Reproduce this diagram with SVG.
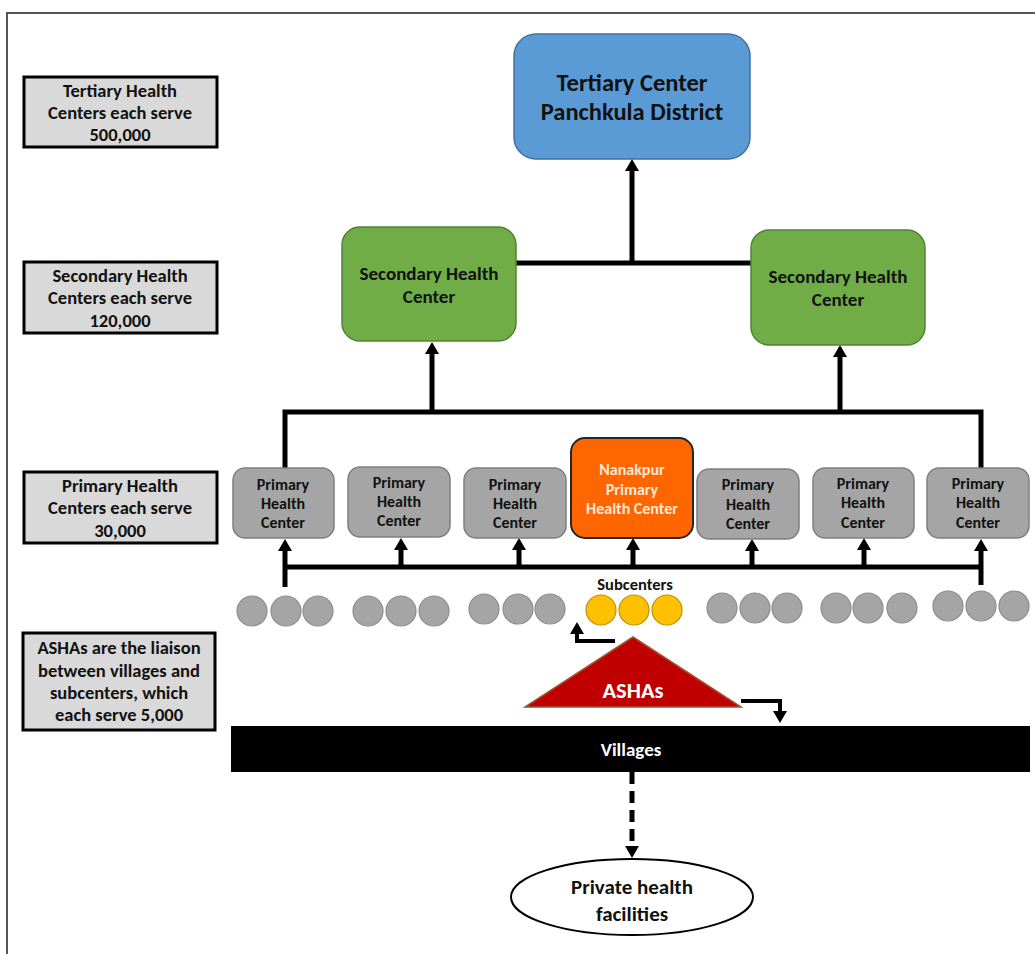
<svg xmlns="http://www.w3.org/2000/svg" width="1035" height="954" viewBox="0 0 1035 954">
<style>
text{font-family:Carlito,Lato,"Liberation Sans",sans-serif;font-weight:bold;text-anchor:middle;fill:#111}
.lbl rect{fill:#d9d9d9;stroke:#000;stroke-width:3}
.lbl text{font-size:18.5px}
.prim rect{fill:#a5a5a5;stroke:#7f7f7f;stroke-width:1.5}
.prim text{font-size:16px}
.sec rect{fill:#70ad47;stroke:#548235;stroke-width:1.5}
.sec text{font-size:19px}
.sc{fill:#a5a5a5;stroke:#8c8c8c;stroke-width:1.2}
.sy{fill:#ffc000;stroke:#bf9000;stroke-width:1.2}
.ln{fill:none;stroke:#000;stroke-width:5}
.el{fill:none;stroke:#000;stroke-width:4}
</style>
<defs>
<marker id="ah" viewBox="0 0 12 14" refX="1" refY="7" markerWidth="12" markerHeight="14" markerUnits="userSpaceOnUse" orient="auto">
<path d="M0,0 L12,7 L0,14 z" fill="#000"/>
</marker>
</defs>
<path d="M7,954 L7,13 L1035,13" fill="none" stroke="#555" stroke-width="2"/>

<g id="label-tertiary" class="lbl">
<rect x="24" y="77" width="193" height="70"/>
<text x="120" y="97">Tertiary Health</text>
<text x="120" y="119">Centers each serve</text>
<text x="120" y="141">500,000</text>
</g>
<g id="label-secondary" class="lbl">
<rect x="24" y="262" width="193" height="71"/>
<text x="120" y="282">Secondary Health</text>
<text x="120" y="304">Centers each serve</text>
<text x="120" y="327">120,000</text>
</g>
<g id="label-primary" class="lbl">
<rect x="24" y="472" width="193" height="71"/>
<text x="120" y="492">Primary Health</text>
<text x="120" y="514">Centers each serve</text>
<text x="120" y="537">30,000</text>
</g>
<g id="label-ashas" class="lbl">
<rect x="23" y="633" width="192" height="97"/>
<text x="119" y="654">ASHAs are the liaison</text>
<text x="119" y="677">between villages and</text>
<text x="119" y="699">subcenters, which</text>
<text x="119" y="721">each serve 5,000</text>
</g>

<g id="connectors">
<path class="ln" d="M632,263 L632,170" marker-end="url(#ah)"/>
<path class="ln" d="M516,263 L751,263"/>
<path class="ln" d="M432,412 L432,353" marker-end="url(#ah)"/>
<path class="ln" d="M840,412 L840,356" marker-end="url(#ah)"/>
<path class="ln" d="M285,468 L285,412 L981,412 L981,468"/>
<path class="ln" d="M285,567 L981,567"/>
<path class="ln" d="M285,587 L285,550" marker-end="url(#ah)"/>
<path class="ln" d="M401,567 L401,549" marker-end="url(#ah)"/>
<path class="ln" d="M519,567 L519,549" marker-end="url(#ah)"/>
<path class="ln" d="M633,567 L633,549" marker-end="url(#ah)"/>
<path class="ln" d="M752,567 L752,550" marker-end="url(#ah)"/>
<path class="ln" d="M864,567 L864,549" marker-end="url(#ah)"/>
<path class="ln" d="M981,585 L981,550" marker-end="url(#ah)"/>
<path class="el" d="M615,641 L577,641 L577,633" marker-end="url(#ah)"/>
<path class="el" d="M741,701 L780,701 L780,712" marker-end="url(#ah)"/>
<path class="ln" d="M632,772 L632,847" stroke-dasharray="12,7" marker-end="url(#ah)"/>
</g>

<g id="tertiary-center">
<rect x="514" y="34" width="236" height="125" rx="22" fill="#5b9bd5" stroke="#41719c" stroke-width="1.5"/>
<text x="632" y="91" font-size="24.5">Tertiary Center</text>
<text x="632" y="120" font-size="24.5">Panchkula District</text>
</g>
<g id="secondary-left" class="sec">
<rect x="342" y="227" width="174" height="114" rx="18"/>
<text x="429" y="280">Secondary Health</text>
<text x="429" y="303">Center</text>
</g>
<g id="secondary-right" class="sec">
<rect x="751" y="230" width="174" height="115" rx="18"/>
<text x="838" y="283">Secondary Health</text>
<text x="838" y="306">Center</text>
</g>

<g id="primary-1" class="prim">
<rect x="233" y="468" width="101" height="70" rx="12"/>
<text x="283" y="490">Primary</text><text x="283" y="509">Health</text><text x="283" y="528">Center</text>
</g>
<g id="primary-2" class="prim">
<rect x="348" y="467" width="102" height="70" rx="12"/>
<text x="399" y="488">Primary</text><text x="399" y="507">Health</text><text x="399" y="526">Center</text>
</g>
<g id="primary-3" class="prim">
<rect x="464" y="468" width="102" height="70" rx="12"/>
<text x="515" y="490">Primary</text><text x="515" y="509">Health</text><text x="515" y="528">Center</text>
</g>
<g id="primary-nanakpur">
<rect x="571" y="438" width="122" height="100" rx="14" fill="#ff6600" stroke="#262626" stroke-width="2"/>
<text x="632" y="475" font-size="16" style="fill:#fde9d9">Nanakpur</text>
<text x="632" y="495" font-size="16" style="fill:#fde9d9">Primary</text>
<text x="632" y="514" font-size="16" style="fill:#fde9d9">Health Center</text>
</g>
<g id="primary-5" class="prim">
<rect x="697" y="469" width="102" height="70" rx="12"/>
<text x="748" y="490">Primary</text><text x="748" y="510">Health</text><text x="748" y="529">Center</text>
</g>
<g id="primary-6" class="prim">
<rect x="813" y="468" width="101" height="70" rx="12"/>
<text x="863" y="489">Primary</text><text x="863" y="508">Health</text><text x="863" y="528">Center</text>
</g>
<g id="primary-7" class="prim">
<rect x="927" y="468" width="102" height="70" rx="12"/>
<text x="978" y="489">Primary</text><text x="978" y="508">Health</text><text x="978" y="528">Center</text>
</g>

<g id="subcenters">
<circle class="sc" cx="252" cy="611" r="15"/><circle class="sc" cx="286" cy="611" r="15"/><circle class="sc" cx="318" cy="611" r="15"/>
<circle class="sc" cx="368" cy="611" r="15"/><circle class="sc" cx="401" cy="611" r="15"/><circle class="sc" cx="434" cy="611" r="15"/>
<circle class="sc" cx="484" cy="609" r="15"/><circle class="sc" cx="518" cy="609" r="15"/><circle class="sc" cx="550" cy="609" r="15"/>
<circle class="sy" cx="601" cy="610" r="15"/><circle class="sy" cx="634" cy="610" r="15"/><circle class="sy" cx="667" cy="610" r="15"/>
<circle class="sc" cx="722" cy="608" r="15"/><circle class="sc" cx="755" cy="608" r="15"/><circle class="sc" cx="787" cy="608" r="15"/>
<circle class="sc" cx="836" cy="608" r="15"/><circle class="sc" cx="868" cy="608" r="15"/><circle class="sc" cx="902" cy="608" r="15"/>
<circle class="sc" cx="948" cy="606" r="15"/><circle class="sc" cx="981" cy="606" r="15"/><circle class="sc" cx="1014" cy="606" r="15"/>
<text x="635" y="590" font-size="16.5">Subcenters</text>
</g>

<g id="ashas">
<polygon points="633,637 741,707 525,707" fill="#c00000" stroke="#a0522d" stroke-width="1.5"/>
<text x="633" y="698" font-size="22.5" style="fill:#fff">ASHAs</text>
</g>

<g id="villages">
<rect x="231" y="726" width="799" height="46" fill="#000"/>
<text x="631" y="756" font-size="19" style="fill:#fff">Villages</text>
</g>

<g id="private">
<ellipse cx="632" cy="897" rx="121" ry="38" fill="#fff" stroke="#000" stroke-width="2"/>
<text x="632" y="894" font-size="21">Private health</text>
<text x="632" y="921" font-size="21">facilities</text>
</g>
</svg>
